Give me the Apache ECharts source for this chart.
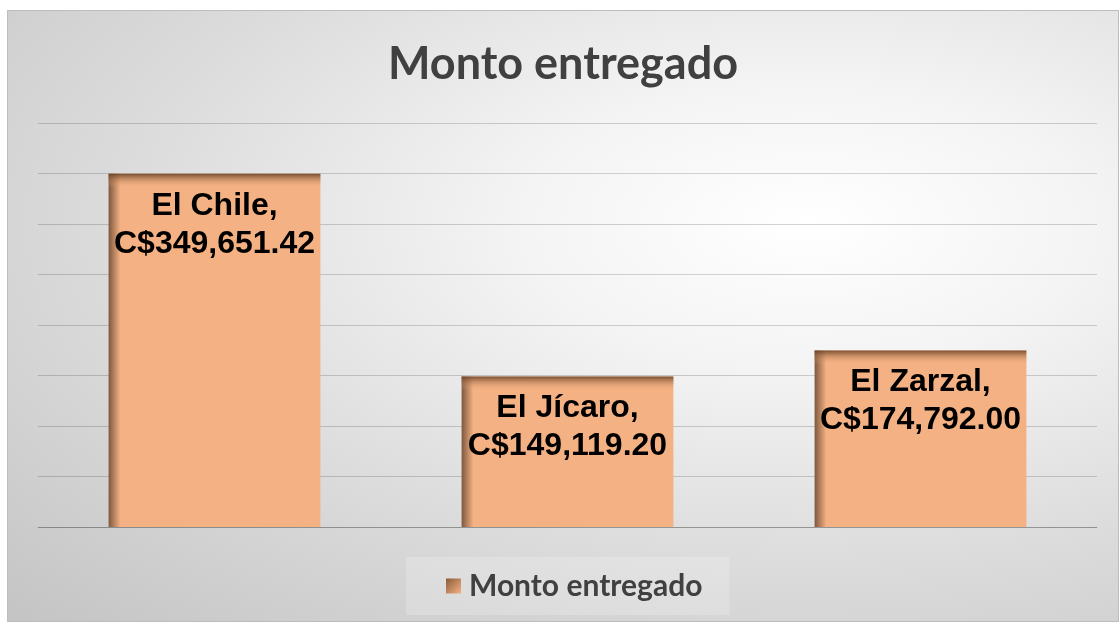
<!DOCTYPE html>
<html lang="es">
<head>
  <meta charset="UTF-8">
  <title>Monto entregado</title>
  <script src="https://cdn.jsdelivr.net/npm/echarts@6/dist/echarts.min.js"></script>
  <style>
    body { margin: 0; background: #fff; }
    #main {
      position: absolute; left: 7px; top: 10px; width: 1110px; height: 610px;
      border: 1px solid #bdbdbd;
      background: radial-gradient(ellipse at 72% 35%, #ffffff 0%, #f4f4f4 25%, #dcdcdc 60%, #c4c4c4 100%);
    }
  </style>
</head>
<body>
  <div id="main"></div>
  <script>
    // datos
    var categorias = ['El Chile', 'El Jícaro', 'El Zarzal']
    var montos = [349651.42, 149119.20, 174792.00]
    var serieNombre = 'Monto entregado'

    var yMax = 400000
    var plotH = 406 // alto aprox. del área de trazado, para la sombra superior

    function fmt(v) {
      return 'C$' + v.toLocaleString('en-US', { minimumFractionDigits: 2, maximumFractionDigits: 2 })
    }

    var barColor = {
      type: 'linear', x: 0, y: 0, x2: 1, y2: 0,
      colorStops: [
        { offset: 0, color: '#7d573d' },
        { offset: 0.055, color: '#f4b183' },
        { offset: 1, color: '#f4b183' }
      ]
    }

    // sombra interior superior (capa encima)
    var topShade = montos.map(function (v) {
      var h = v / yMax * plotH
      var s = Math.min(0.5, 14 / h)
      return {
        value: v,
        itemStyle: {
          color: {
            type: 'linear', x: 0, y: 0, x2: 0, y2: 1,
            colorStops: [
              { offset: 0, color: 'rgba(100,62,35,0.85)' },
              { offset: s, color: 'rgba(244,177,131,0)' },
              { offset: 1, color: 'rgba(244,177,131,0)' }
            ]
          }
        }
      }
    })

    var chart = echarts.init(document.getElementById('main'))
    chart.setOption({
      animation: false,
      title: {
        text: 'Monto entregado',
        left: 'center',
        top: 26,
        textStyle: { fontFamily: 'Lato', fontWeight: 'bold', fontSize: 45, color: '#404040' }
      },
      legend: {
        data: [{
          name: serieNombre,
          itemStyle: {
            color: {
              type: 'linear', x: 0, y: 0, x2: 1, y2: 1,
              colorStops: [{ offset: 0, color: '#8a5a3a' }, { offset: 1, color: '#f4b183' }]
            }
          }
        }],
        bottom: 6,
        left: 398,
        itemWidth: 15,
        itemHeight: 15,
        itemGap: 10,
        icon: 'rect',
        padding: [14, 27, 14, 40],
        backgroundColor: 'rgba(255,255,255,0.2)',
        textStyle: { fontFamily: 'Lato', fontWeight: 'bold', fontSize: 30, color: '#404040', padding: [0, 0, 0, 3] }
      },
      grid: { left: 30, right: 21, top: 112, bottom: 94 },
      xAxis: {
        type: 'category',
        data: categorias,
        axisLine: { show: true, lineStyle: { color: 'rgba(0,0,0,0.2)', width: 1 } },
        axisTick: { show: false },
        axisLabel: { show: false }
      },
      yAxis: {
        type: 'value',
        min: 0,
        max: yMax,
        interval: 50000,
        axisLabel: { show: false },
        axisLine: { show: false },
        axisTick: { show: false },
        splitLine: { lineStyle: { color: 'rgba(0,0,0,0.17)', width: 1 } }
      },
      series: [
        {
          name: serieNombre,
          type: 'bar',
          data: montos,
          barWidth: '60%',
          itemStyle: { color: barColor },
          label: {
            show: true,
            position: 'insideTop',
            distance: 13,
            formatter: function (p) { return p.name + ',\n' + fmt(p.value) },
            fontFamily: 'Liberation Sans',
            fontWeight: 'bold',
            fontSize: 32,
            lineHeight: 38,
            color: '#000'
          },
          z: 2
        },
        {
          name: 'sombra',
          type: 'bar',
          data: topShade,
          barWidth: '60%',
          barGap: '-100%',
          silent: true,
          z: 3
        }
      ]
    })
  </script>
</body>
</html>
